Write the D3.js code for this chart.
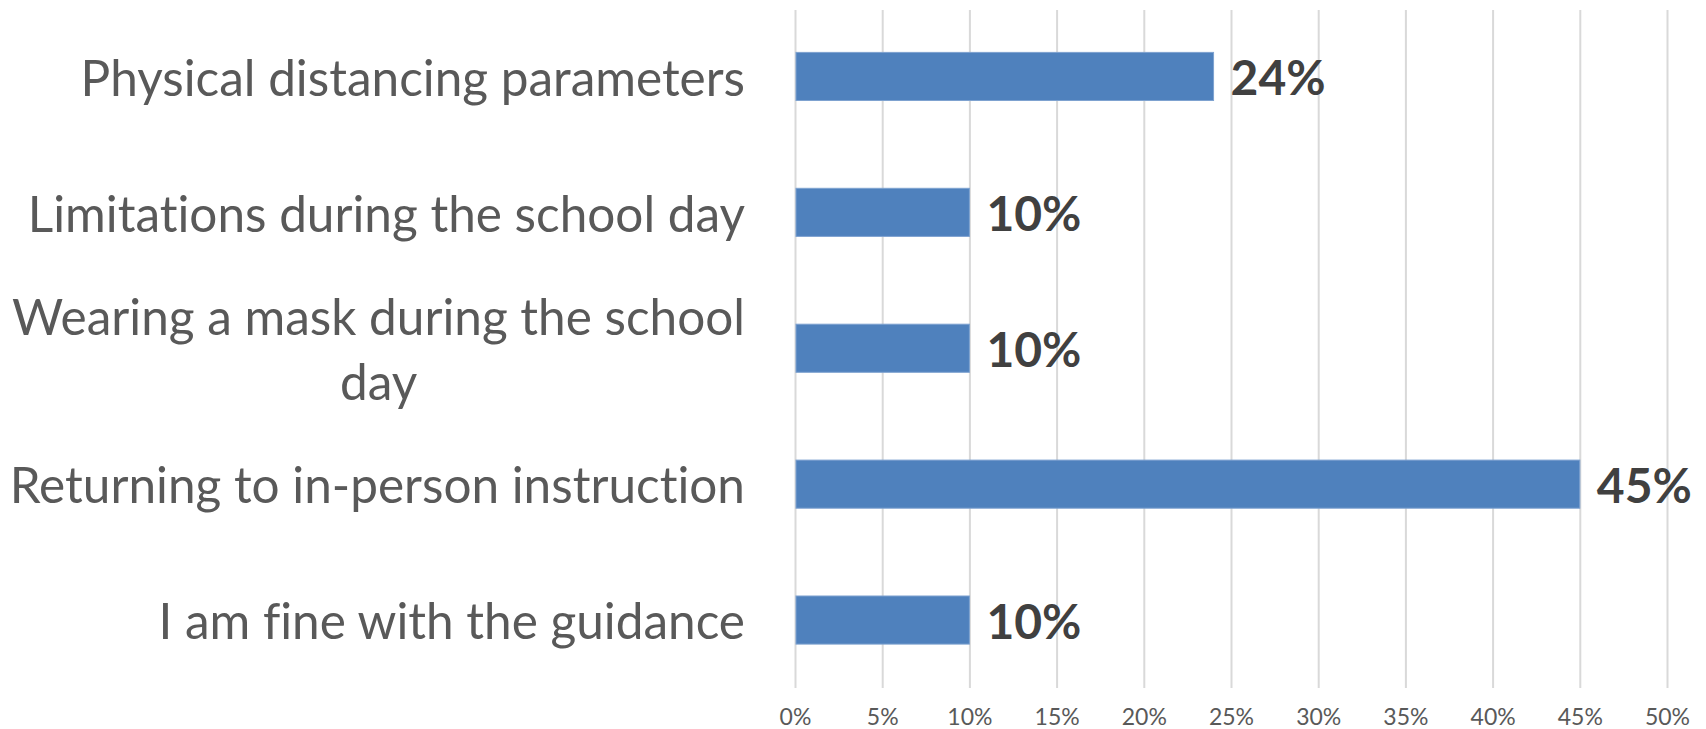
<!DOCTYPE html>
<html>
<head>
<meta charset="utf-8">
<script src="https://cdn.jsdelivr.net/npm/d3@7"></script>
<style>
  body { margin: 0; background: #fff; }
  svg { display: block; }
  text { font-variant-ligatures: none; }
  .cat { font-family: Lato, "Open Sans", sans-serif; font-size: 49.5px; fill: #595959; }
  .val { font-family: Lato, "Open Sans", sans-serif; font-size: 48px; font-weight: bold; fill: #404040; }
  .x.axis text { font-family: Lato, "Open Sans", sans-serif; font-size: 23px; fill: #595959; }
</style>
</head>
<body>
<div id="chart"></div>
<script>
// survey answers, top to bottom
var categories = [
  "Physical distancing parameters",
  "Limitations during the school day",
  "Wearing a mask during the school day",
  "Returning to in-person instruction",
  "I am fine with the guidance"
]
var values = [0.24, 0.10, 0.10, 0.45, 0.10]
var xTicks = [0, 0.05, 0.10, 0.15, 0.20, 0.25, 0.30, 0.35, 0.40, 0.45, 0.50]

var width = 1706, height = 729
var plot = { left: 795, right: 1667, top: 8.5, bottom: 688 }
var labelRight = 745

var svg = d3.select("#chart").append("svg")
    .attr("width", width)
    .attr("height", height)

svg.append("rect").attr("width", width).attr("height", height).attr("fill", "#fff")

var x = d3.scaleLinear()
    .domain([0, 0.5])
    .range([plot.left, plot.right])

var y = d3.scaleBand()
    .domain(categories)
    .range([plot.top, plot.bottom])
    .paddingInner(0.646)
    .paddingOuter(0.323)

// gridlines + tick labels
var xAxis = d3.axisBottom(x)
    .tickValues(xTicks)
    .tickFormat(d3.format(".0%"))
    .tickSize(-(plot.bottom - 10))

var gx = svg.append("g")
    .attr("class", "x axis")
    .attr("transform", "translate(0," + plot.bottom + ")")
    .call(xAxis)

gx.select(".domain").remove()
gx.selectAll(".tick line")
    .attr("stroke", "#d9d9d9")
    .attr("stroke-width", 2)
gx.selectAll(".tick text")
    .attr("y", 37)
    .attr("dy", 0)

// bars
svg.append("g").attr("class", "bars")
  .selectAll("rect")
  .data(categories)
  .enter().append("rect")
    .attr("x", x(0) + 1)
    .attr("y", function(d) { return y(d) })
    .attr("width", function(d, i) { return x(values[i]) - x(0) - 1 })
    .attr("height", y.bandwidth())
    .attr("fill", "#4f81bd")
    .attr("stroke", "#7ea2d0")
    .attr("stroke-width", 1)

// value labels
svg.append("g").attr("class", "vals")
  .selectAll("text")
  .data(categories)
  .enter().append("text")
    .attr("class", "val")
    .attr("x", function(d, i) { return x(values[i]) + 17 })
    .attr("y", function(d) { return y(d) + y.bandwidth() / 2 + 2 })
    .attr("dy", "0.35em")
    .text(function(d, i) { return d3.format(".0%")(values[i]) })

// category labels, wrapped like excel does
var maxLabelWidth = 745
var lineHeight = 65

var cats = svg.append("g").attr("class", "cats")
categories.forEach(function(name) {
  var t = cats.append("text").attr("class", "cat")
  var words = name.split(" "), lines = [], line = []
  words.forEach(function(w) {
    line.push(w)
    t.text(line.join(" "))
    if (t.node().getComputedTextLength() > maxLabelWidth && line.length > 1) {
      line.pop()
      lines.push(line.join(" "))
      line = [w]
    }
  })
  lines.push(line.join(" "))
  t.text(null)

  // block is right aligned, lines centred inside it
  var widths = lines.map(function(l) {
    t.text(l)
    var w = t.node().getComputedTextLength()
    t.text(null)
    return w
  })
  var blockW = d3.max(widths)
  var cy = y(name) + y.bandwidth() / 2 + 2
  var y0 = cy - (lines.length - 1) * lineHeight / 2
  t.attr("text-anchor", lines.length > 1 ? "middle" : "end")
  lines.forEach(function(l, i) {
    t.append("tspan")
      .attr("x", lines.length > 1 ? labelRight - blockW / 2 : labelRight)
      .attr("y", y0 + i * lineHeight)
      .attr("dy", "0.35em")
      .text(l)
  })
})
</script>
</body>
</html>
